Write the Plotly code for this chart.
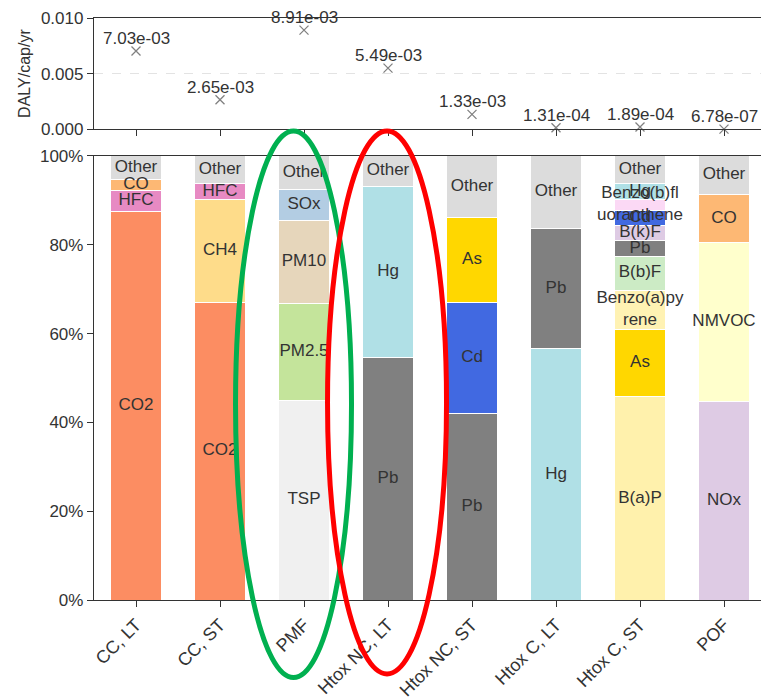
import plotly.graph_objects as go

# ---------------- data ----------------
categories = ["CC, LT", "CC, ST", "PMF", "Htox NC, LT", "Htox NC, ST",
              "Htox C, LT", "Htox C, ST", "POF"]
daly_totals = [7.03e-03, 2.65e-03, 8.91e-03, 5.49e-03, 1.33e-03,
               1.31e-04, 1.89e-04, 6.78e-07]

share_ticks = [0, 20, 40, 60, 80, 100]
share_tick_labels = ["0%", "20%", "40%", "60%", "80%", "100%"]
daly_ticks = [0, 0.005, 0.010]
daly_tick_labels = ["0.000", "0.005", "0.010"]

cc_lt_names = ["CO2", "HFC", "CO", "Other"]
cc_lt_shares = [87.4, 4.9, 2.3, 5.4]

cc_st_names = ["CO2", "CH4", "HFC", "Other"]
cc_st_shares = [67.1, 23.0, 3.7, 6.2]

pmf_names = ["TSP", "PM2.5", "PM10", "SOx", "Other"]
pmf_shares = [45.0, 21.8, 18.6, 7.0, 7.6]

htox_nc_lt_names = ["Pb", "Hg", "Other"]
htox_nc_lt_shares = [54.6, 38.6, 6.8]

htox_nc_st_names = ["Pb", "Cd", "As", "Other"]
htox_nc_st_shares = [41.9, 25.1, 19.2, 13.8]

htox_c_lt_names = ["Hg", "Pb", "Other"]
htox_c_lt_shares = [56.6, 27.1, 16.3]

htox_c_st_names = ["B(a)P", "As", "Benzo(a)pyrene", "B(b)F", "Pb", "B(k)F",
                   "Cd", "Benzo(b)fluoranthene", "Hg", "Other"]
htox_c_st_shares = [45.8, 15.1, 8.9, 7.6, 3.5, 3.5, 3.4, 2.5, 3.4, 6.3]

pof_names = ["NOx", "NMVOC", "CO", "Other"]
pof_shares = [44.8, 35.6, 11.0, 8.6]

segment_names = [cc_lt_names, cc_st_names, pmf_names, htox_nc_lt_names,
                 htox_nc_st_names, htox_c_lt_names, htox_c_st_names, pof_names]
segment_shares = [cc_lt_shares, cc_st_shares, pmf_shares, htox_nc_lt_shares,
                  htox_nc_st_shares, htox_c_lt_shares, htox_c_st_shares, pof_shares]

# ---------------- styles ----------------
colors = {
    "CO2": "#FC8D62", "HFC": "#E78AC3", "CO": "#FDB874", "Other": "#DCDCDC",
    "CH4": "#FEDC8A", "TSP": "#F0F0F0", "PM2.5": "#C4E49B", "PM10": "#E6D6BB",
    "SOx": "#B3CDE3", "Pb": "#808080", "Hg": "#B0E0E6", "Cd": "#4169E1",
    "As": "#FFD700", "B(a)P": "#FFF1AC", "Benzo(a)pyrene": "#FFF2B3",
    "B(b)F": "#CCEBC5", "B(k)F": "#DECBE4", "Benzo(b)fluoranthene": "#FBD9F5",
    "NMVOC": "#FFFFCC", "NOx": "#DECBE4",
}
display = {"Benzo(a)pyrene": "Benzo(a)py<br>rene",
           "Benzo(b)fluoranthene": "Benzo(b)fl<br>uoranthene"}

FONT = "Arial, Liberation Sans, sans-serif"
FS = 17
TXT = "#333333"
AX = "#333333"

fig = go.Figure()

# ---------------- top panel ----------------
fig.add_trace(go.Scatter(
    x=categories, y=daly_totals, mode="markers",
    marker=dict(symbol="x-thin", size=9, line=dict(width=1.3, color="#808080"),
                color="#808080"),
    cliponaxis=False, showlegend=False, xaxis="x", yaxis="y"))
for cat, v in zip(categories, daly_totals):
    fig.add_annotation(x=cat, y=v, xref="x", yref="y", text=f"{v:.2e}",
                       showarrow=False, yanchor="bottom", xanchor="center",
                       yshift=1, font=dict(size=FS, color=TXT, family=FONT))

# ---------------- stacked bars ----------------
lab_x, lab_y, lab_t = [], [], []
for cat, names, shares in zip(categories, segment_names, segment_shares):
    base = 0.0
    for n, s in zip(names, shares):
        fig.add_trace(go.Bar(
            x=[cat], y=[s], base=[base], width=0.6,
            marker=dict(color=colors[n], line=dict(color="white", width=1)),
            showlegend=False, xaxis="x2", yaxis="y2", hoverinfo="skip"))
        lab_x.append(cat)
        lab_y.append(base + s / 2)
        lab_t.append(display.get(n, n))
        base += s

fig.add_trace(go.Scatter(
    x=lab_x, y=lab_y, text=lab_t, mode="text",
    textfont=dict(size=FS, color=TXT, family=FONT),
    cliponaxis=False, showlegend=False, xaxis="x2", yaxis="y2", hoverinfo="skip"))

# ---------------- hand-drawn ellipses ----------------
fig.add_shape(type="circle", xref="paper", yref="paper",
              x0=0.2106, x1=0.3832, y0=-0.1332, y1=0.8058,
              line=dict(color="#00B050", width=5), layer="above")
fig.add_shape(type="circle", xref="paper", yref="paper",
              x0=0.3475, x1=0.5246, y0=-0.1271, y1=0.8058,
              line=dict(color="#FF0000", width=5), layer="above")

axis_common = dict(showline=True, linecolor=AX, linewidth=1.3, mirror=True,
                   ticks="outside", ticklen=6, tickwidth=1.3, tickcolor=AX,
                   tickfont=dict(size=FS, color=TXT, family=FONT),
                   zeroline=False, automargin=False)

fig.update_layout(
    width=769, height=697,
    margin=dict(l=86, r=11, t=10, b=105),
    paper_bgcolor="white", plot_bgcolor="white",
    barmode="stack",
    font=dict(family=FONT, color=TXT, size=FS),
    xaxis=dict(domain=[0, 1], anchor="y", type="category",
               categoryorder="array", categoryarray=categories,
               range=[-0.5, 7.5], showticklabels=False, showgrid=False,
               **axis_common),
    yaxis=dict(domain=[0.809, 1], anchor="x", range=[0, 0.010],
               tickvals=daly_ticks, ticktext=daly_tick_labels,
               showgrid=True, gridcolor="#E3E3E3", griddash="dash", gridwidth=1,
               title=dict(text="DALY/cap/yr", font=dict(size=16, color=TXT, family=FONT),
                          standoff=6),
               **axis_common),
    xaxis2=dict(domain=[0, 1], anchor="y2", type="category",
                categoryorder="array", categoryarray=categories,
                range=[-0.5, 7.5], tickangle=-45, showgrid=False,
                **{**axis_common, "tickfont": dict(size=18, color=TXT, family=FONT)}),
    yaxis2=dict(domain=[0, 0.763], anchor="x2", range=[0, 100],
                tickvals=share_ticks, ticktext=share_tick_labels,
                showgrid=False, **axis_common),
)

fig.write_html("out.html")
